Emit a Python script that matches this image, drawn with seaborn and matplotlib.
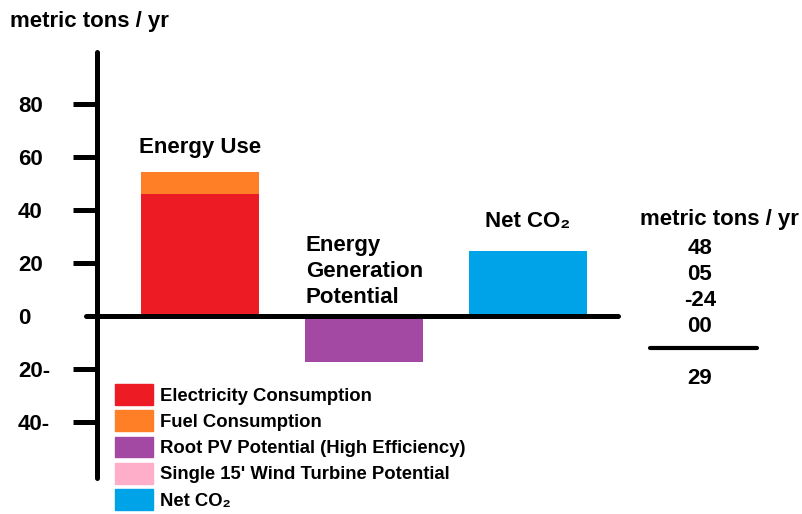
import numpy as np
import matplotlib
matplotlib.use("Agg")
import matplotlib.pyplot as plt
from matplotlib.patches import Patch
from matplotlib.lines import Line2D
import seaborn as sns

# values
categories = ["Energy Use", "Energy Generation Potential", "Net CO2"]
electricity = [46, 0, 0]
fuel = [8.5, 0, 0]
roof_pv = [0, -17.5, 0]
wind = [0, 0, 0]
net_co2 = [0, 0, 24.5]

ytick_values = [80, 60, 40, 20, 0, -20, -40]
ytick_labels = ["80", "60", "40", "20", "0", "20-", "40-"]

table_values = ["48", "05", "-24", "00"]
table_total = "29"

legend_labels = ["Electricity Consumption", "Fuel Consumption",
                 "Root PV Potential (High Efficiency)",
                 "Single 15' Wind Turbine Potential", "Net CO\u2082"]
colors = ["#ED1C24", "#FF7F27", "#A349A4", "#FFAEC9", "#00A2E8"]

sns.set_style("white")
plt.rcParams['font.family'] = ['Liberation Sans', 'DejaVu Sans']
plt.rcParams['text.color'] = 'black'
plt.rcParams['ytick.color'] = 'black'
plt.rcParams['ytick.labelcolor'] = 'black'

FS = 16

fig = plt.figure(figsize=(8.02, 5.14), dpi=100)
ax = fig.add_axes([97 / 802, 1 - 478 / 514, 521 / 802, 426 / 514])

# stacked bars: draw the totals first, then the lower segments on top
energy_total = np.array(electricity) + np.array(fuel)
gen_total = np.array(roof_pv) + np.array(wind)
bar_kw = dict(width=0.72, errorbar=None, saturation=1, linewidth=0, ax=ax)
sns.barplot(x=categories, y=energy_total, color=colors[1], **bar_kw)
sns.barplot(x=categories, y=electricity, color=colors[0], **bar_kw)
sns.barplot(x=categories, y=gen_total, color=colors[3], **bar_kw)
sns.barplot(x=categories, y=roof_pv, color=colors[2], **bar_kw)
sns.barplot(x=categories, y=net_co2, color=colors[4], **bar_kw)

ax.set_xlim(-0.628, 2.549)
ax.set_ylim(-61.1, 99.6)

for s in ["top", "right", "bottom"]:
    ax.spines[s].set_visible(False)
ax.spines["left"].set_linewidth(3.6)
ax.spines["left"].set_color("black")
ax.spines["left"].set_capstyle("round")
ax.axhline(0, xmin=-0.021, xmax=1, color="black", lw=3.6, clip_on=False,
           solid_capstyle="round", zorder=5)

ax.set_xticks([])
ax.set_xlabel("")
ax.set_ylabel("")
ax.set_yticks(ytick_values)
ax.set_yticklabels(ytick_labels, fontsize=FS, fontweight="bold")
ax.tick_params(axis="y", length=17, width=3.6, pad=40, left=True, color="black")
for lab in ax.get_yticklabels():
    lab.set_horizontalalignment("left")
# the zero tick is covered by the baseline, which is shorter on the left
ax.yaxis.get_major_ticks()[ytick_values.index(0)].tick1line.set_visible(False)

# bar group labels
ax.text(0, 63.5, "Energy Use", ha="center", va="center", fontsize=FS, fontweight="bold")
ax.text(0.645, 16.8, "Energy\nGeneration\nPotential", ha="left", va="center",
        fontsize=FS, fontweight="bold", linespacing=1.3)
ax.text(2, 35.5, "Net CO\u2082", ha="center", va="center", fontsize=FS, fontweight="bold")

# title / unit
fig.text(10 / 802, 1 - 22 / 514, "metric tons / yr", ha="left", va="center",
         fontsize=FS, fontweight="bold")

# right-hand summary table
fig.text(719 / 802, 1 - 220 / 514, "metric tons / yr", ha="center", va="center",
         fontsize=FS, fontweight="bold")
for i, v in enumerate(table_values):
    fig.text(700 / 802, 1 - (248 + 26 * i) / 514, v, ha="center", va="center",
             fontsize=FS, fontweight="bold")
fig.add_artist(Line2D([650 / 802, 757 / 802], [1 - 348 / 514, 1 - 348 / 514],
                      color="black", lw=3, solid_capstyle="round"))
fig.text(700 / 802, 1 - 378 / 514, table_total, ha="center", va="center",
         fontsize=FS, fontweight="bold")

# legend
handles = [Patch(facecolor=c, edgecolor=c, label=l) for c, l in zip(colors, legend_labels)]
leg = fig.legend(handles=handles, loc="upper left", bbox_to_anchor=(115 / 802, 1 - 384 / 514),
                 frameon=False, fontsize=13.3, handlelength=2.05, handleheight=1.35,
                 labelspacing=0.3, handletextpad=0.4, borderpad=0, borderaxespad=0)
for t in leg.get_texts():
    t.set_fontweight("bold")

fig.savefig("out.png", dpi=100)
